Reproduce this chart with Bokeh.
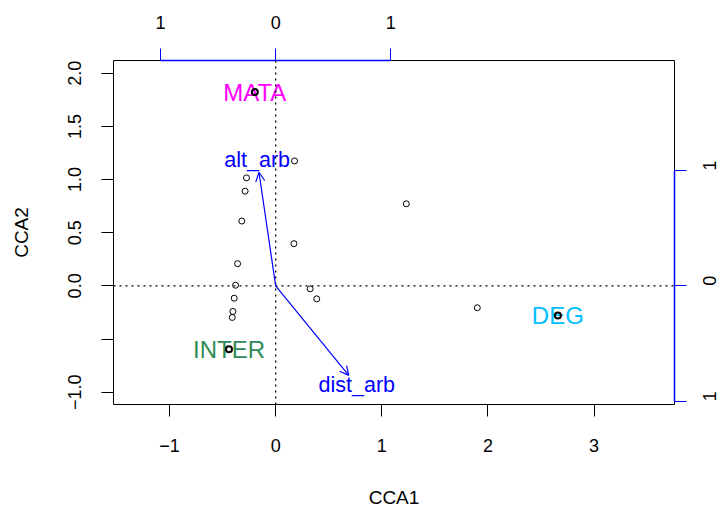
import math
from bokeh.plotting import figure
from bokeh.models import Range1d, LinearAxis, FixedTicker, Arrow, OpenHead, Span, ColumnDataSource
from bokeh.embed import file_html
from bokeh.resources import INLINE
from bokeh.core.properties import value

# ---- data ----
site_x = [-0.197, 0.178, -0.275, -0.288, -0.319, 0.172, 1.231, -0.359, -0.378,
          -0.391, -0.403, -0.409, -0.440, 0.325, 0.387, 1.900, 2.659]
site_y = [1.823, 1.175, 1.016, 0.891, 0.610, 0.397, 0.772, 0.209, 0.006,
          -0.116, -0.241, -0.297, -0.597, -0.028, -0.122, -0.206, -0.279]

group_names = ["MATA", "INTER", "DEG"]
group_x = [-0.197, -0.440, 2.659]
group_y = [1.823, -0.597, -0.279]
group_colors = ["#FF00FF", "#2E8B57", "#00BFFF"]

env_names = ["alt_arb", "dist_arb"]
env_x = [-0.145, 0.635]
env_y = [0.985, -0.776]
arrow_mul = 1.085
label_mul = 1.11

x_ticks = [-1, 0, 1, 2, 3]
x_tick_labels = {-1: "\u22121", 0: "0", 1: "1", 2: "2", 3: "3"}
y_ticks = [-1, -0.5, 0, 0.5, 1, 1.5, 2]
y_tick_labels = {-1: "\u22121.0", -0.5: "", 0: "0.0", 0.5: "0.5", 1: "1.0", 1.5: "1.5", 2: "2.0"}
bip_ticks = [-1, 0, 1]
bip_tick_labels = {-1: "1", 0: "0", 1: "1"}

x_lim = (-1.528, 3.758)
y_lim = (-1.116, 2.12)

FONT = "Liberation Sans"

p = figure(width=725, height=510, output_backend="svg", toolbar_location=None,
           x_range=Range1d(*x_lim), y_range=Range1d(*y_lim),
           x_axis_type=None, y_axis_type=None,
           min_border_left=113, min_border_right=48, min_border_top=60, min_border_bottom=105)
p.extra_x_ranges = {"bx": Range1d(x_lim[0] / arrow_mul, x_lim[1] / arrow_mul)}
p.extra_y_ranges = {"by": Range1d(y_lim[0] / arrow_mul, y_lim[1] / arrow_mul)}
p.grid.visible = False
p.outline_line_color = "black"
p.outline_line_alpha = 1
p.outline_line_width = 1
p.background_fill_color = "white"
p.border_fill_color = "white"


def style(ax, color="black"):
    ax.major_tick_in = 0
    ax.major_tick_out = 12
    ax.minor_tick_line_color = None
    ax.major_tick_line_color = color
    ax.axis_line_color = color
    ax.major_label_text_font = FONT
    ax.major_label_text_font_size = "18px"
    ax.major_label_text_color = "black"
    ax.axis_label_text_font = FONT
    ax.axis_label_text_font_size = "19px"
    ax.axis_label_text_font_style = "normal"
    ax.axis_label_text_color = "black"


bottom = LinearAxis(ticker=FixedTicker(ticks=x_ticks), major_label_overrides=x_tick_labels,
                    bounds=(x_ticks[0], x_ticks[-1]), axis_label="CCA1")
style(bottom)
bottom.major_label_standoff = 22
bottom.axis_label_standoff = 32
p.add_layout(bottom, "below")

left = LinearAxis(ticker=FixedTicker(ticks=y_ticks), major_label_overrides=y_tick_labels,
                  bounds=(y_ticks[0], y_ticks[-1]), axis_label="CCA2")
style(left)
left.major_label_orientation = "vertical"
left.major_label_standoff = 20
left.axis_label_standoff = 34
p.add_layout(left, "left")

top = LinearAxis(x_range_name="bx", ticker=FixedTicker(ticks=bip_ticks),
                 major_label_overrides=bip_tick_labels, bounds=(-1, 1))
style(top, "#0000FF")
top.axis_line_width = 1.5
top.major_label_standoff = 20
p.add_layout(top, "above")

right = LinearAxis(y_range_name="by", ticker=FixedTicker(ticks=bip_ticks),
                   major_label_overrides=bip_tick_labels, bounds=(-1, 1))
style(right, "#0000FF")
right.axis_line_width = 1.5
right.major_label_orientation = math.pi / 2
right.major_label_standoff = 23
p.add_layout(right, "right")

# dotted zero lines
for dim in ("width", "height"):
    p.add_layout(Span(location=0, dimension=dim, line_color="black", line_width=1.3,
                      line_dash="2 4"))

# group labels
gsrc = ColumnDataSource(dict(x=group_x, y=group_y, t=group_names, c=group_colors))
p.text(x="x", y="y", text="t", text_color="c", source=gsrc, text_font=value(FONT),
       text_font_size="24px", text_align="center", text_baseline="middle")

# biplot arrows
ax_end = [v * arrow_mul for v in env_x]
ay_end = [v * arrow_mul for v in env_y]
asrc = ColumnDataSource(dict(x0=[0] * len(env_x), y0=[0] * len(env_y), x1=ax_end, y1=ay_end))
p.add_layout(Arrow(source=asrc, x_start="x0", y_start="y0", x_end="x1", y_end="y1",
                   line_color="#0000FF", line_width=1.2,
                   end=OpenHead(size=9, line_color="#0000FF", line_width=1.2)))
lsrc = ColumnDataSource(dict(x=[v * label_mul for v in ax_end], y=[v * label_mul for v in ay_end],
                             t=env_names))
p.text(x="x", y="y", text="t", source=lsrc, text_color="#0000FF", text_font=value(FONT),
       text_font_size="21.5px", text_align="center", text_baseline="middle")

# site points
p.scatter(site_x, site_y, marker="circle", size=6, fill_color=None, line_color="black",
          line_width=1)
p.scatter(group_x, group_y, marker="circle", size=6, fill_color=None, line_color="black",
          line_width=2)

open("out.html", "w").write(file_html(p, INLINE))
